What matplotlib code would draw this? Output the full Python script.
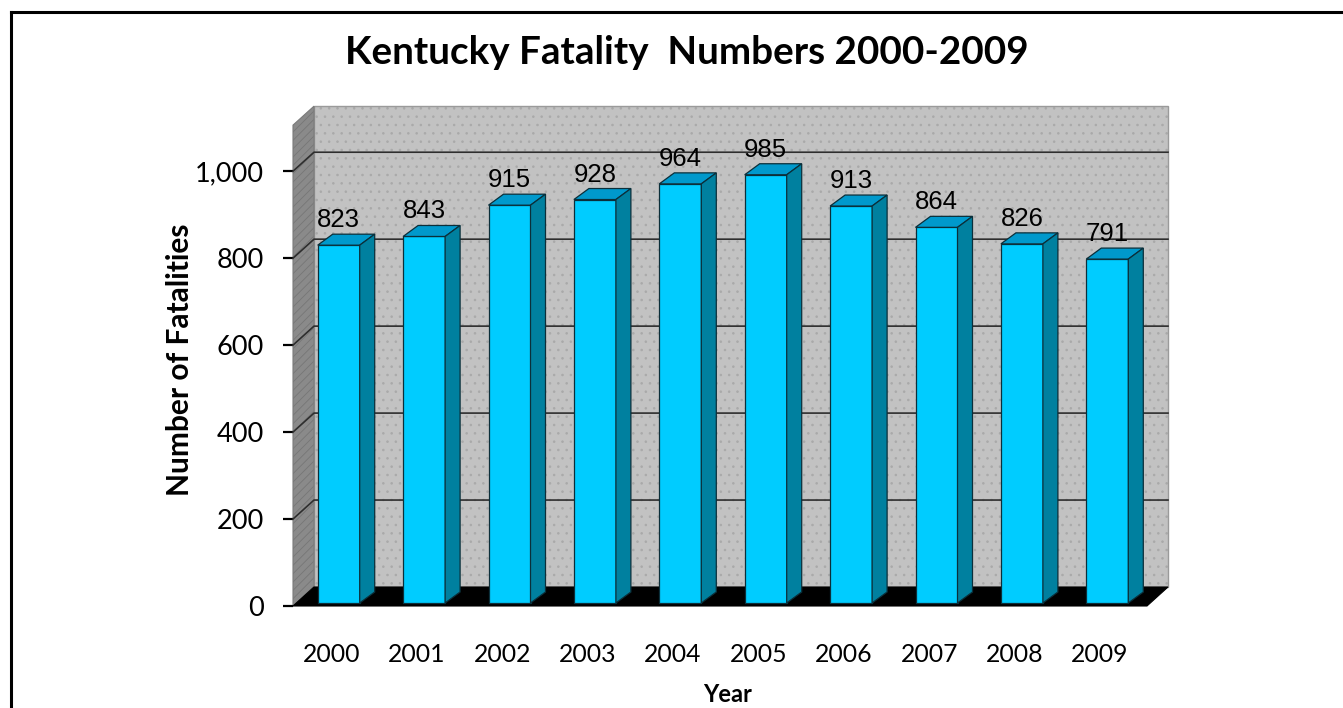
import matplotlib.pyplot as plt
from matplotlib.patches import Polygon
from matplotlib.lines import Line2D

years = ['2000', '2001', '2002', '2003', '2004', '2005', '2006', '2007', '2008', '2009']
fatalities = [823, 843, 915, 928, 964, 985, 913, 864, 826, 791]
y_ticks = [0, 200, 400, 600, 800, 1000]

# pseudo-3D geometry (in data units: categories along x, counts along y)
PX_X = 85.4      # pixels per category
PX_Y = 0.4348    # pixels per fatality
WDX, WDY = 21 / PX_X, 19 / PX_Y          # depth of walls/floor
BFX, BFY = 3 / PX_X, 3 / PX_Y            # bar front set back from front plane
BDX, BDY = 15 / PX_X, 11 / PX_Y          # bar depth
HALF_W = 21 / PX_X
WALL_TOP = 1106
X0, X1 = -0.5, 9.5

plt.rcParams['font.family'] = ['Lato', 'DejaVu Sans']
plt.rcParams['hatch.linewidth'] = 0.6

fig = plt.figure(figsize=(13.43, 7.08), dpi=100)
ax = fig.add_axes([293 / 1343, (708 - 606) / 708, 854 / 1343, 500 / 708])
ax.set_xlim(X0, X1)
ax.set_ylim(0, 1150)
ax.set_facecolor('none')
for s in ax.spines.values():
    s.set_visible(False)


def poly(pts, **kw):
    p = Polygon(pts, closed=True, clip_on=False, **kw)
    ax.add_patch(p)
    return p


# back wall
back = [(X0 + WDX, WDY), (X1 + WDX, WDY), (X1 + WDX, WALL_TOP + WDY), (X0 + WDX, WALL_TOP + WDY)]
poly(back, facecolor='#c2c2c2', edgecolor='#a9a9a9', hatch='..', lw=0, zorder=1)
poly(back, fill=False, edgecolor='#9a9a9a', lw=1.0, zorder=1.1)

# left side wall
side = [(X0, 0), (X0 + WDX, WDY), (X0 + WDX, WALL_TOP + WDY), (X0, WALL_TOP)]
poly(side, facecolor='#8a8a8a', edgecolor='#767676', hatch='////', lw=0, zorder=1)
poly(side, fill=False, edgecolor='#7a7a7a', lw=0.8, zorder=1.1)

# gridlines on side and back walls
for t in y_ticks[1:]:
    ax.plot([X0, X0 + WDX, X1 + WDX], [t, t + WDY, t + WDY],
            color='#2e2e2e', lw=1.2, zorder=2, clip_on=False)

# floor
poly([(X0, 0), (X1, 0), (X1 + WDX, WDY), (X0 + WDX, WDY)],
     facecolor='black', edgecolor='black', lw=0.8, zorder=3)

# bars
front_c, top_c, side_c, edge_c = '#00ccff', '#0099cc', '#00809f', '#0b2f3a'
for i, v in enumerate(fatalities):
    xl = i + BFX - HALF_W
    xr = i + BFX + HALF_W
    yb = BFY
    yt = BFY + v
    poly([(xl, yb), (xr, yb), (xr, yt), (xl, yt)],
         facecolor=front_c, edgecolor=edge_c, lw=0.9, zorder=4)
    poly([(xl, yt), (xr, yt), (xr + BDX, yt + BDY), (xl + BDX, yt + BDY)],
         facecolor=top_c, edgecolor=edge_c, lw=0.9, zorder=4)
    poly([(xr, yb), (xr + BDX, yb + BDY), (xr + BDX, yt + BDY), (xr, yt)],
         facecolor=side_c, edgecolor=edge_c, lw=0.9, zorder=4)
    ax.text(i + BFX, yt + BDY + 7 / PX_Y, str(v), ha='center', va='baseline',
            fontsize=18.5, family=['Liberation Sans', 'DejaVu Sans'], color='black', zorder=5)

# axes ticks
ax.set_yticks(y_ticks)
ax.set_yticklabels([f'{t:,}' for t in y_ticks])
ax.tick_params(axis='y', direction='out', length=7, width=1.6, pad=14, labelsize=19.5,
               color='black')
ax.set_xticks([i - 0.05 for i in range(len(years))])
ax.set_xticklabels(years)
ax.tick_params(axis='x', length=0, pad=27, labelsize=17.8)

# titles
fig.text(687 / 1343, 1 - 53 / 708, 'Kentucky Fatality  Numbers 2000-2009',
         ha='center', va='center', fontsize=27.8, fontweight='bold')
fig.text(180 / 1343, 1 - 360 / 708, 'Number of Fatalities', rotation=90,
         ha='center', va='center', fontsize=21.5, fontweight='bold')
fig.text(728 / 1343, 1 - 694 / 708, 'Year', ha='center', va='center',
         fontsize=17, fontweight='bold')

# outer frame (top and left edges)
fig.add_artist(Line2D([11 / 1343, 1], [1 - 12 / 708, 1 - 12 / 708],
                      transform=fig.transFigure, color='black', lw=2.2))
fig.add_artist(Line2D([11 / 1343, 11 / 1343], [0, 1 - 12 / 708],
                      transform=fig.transFigure, color='black', lw=2.2))

fig.savefig('out.png', dpi=100)
